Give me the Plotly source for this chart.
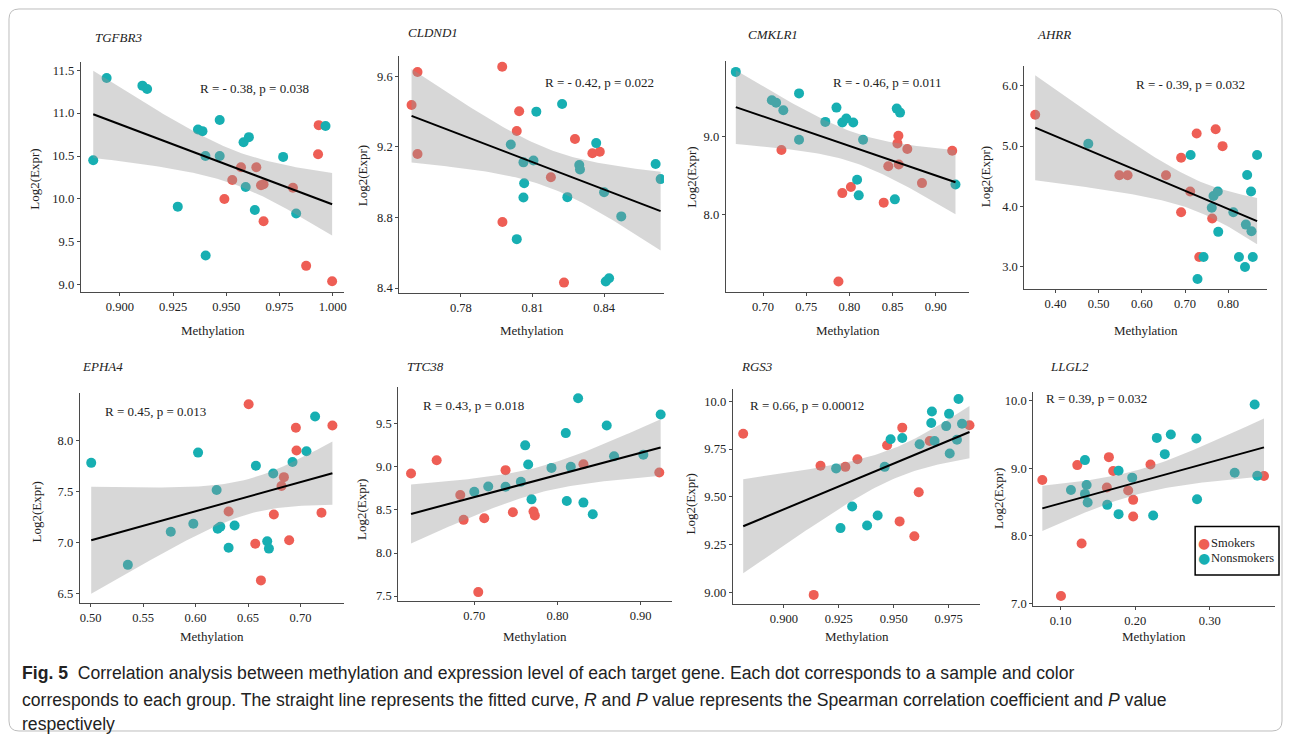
import numpy as np
import plotly.graph_objects as go

# page is drawn with the default 8px body margin, so the figure is 16px smaller than the window
SCR_W, SCR_H, OFF = 1293, 743, 8
W, H = SCR_W - 2 * OFF, SCR_H - 2 * OFF

# ---------------- data ----------------
genes = ["TGFBR3", "CLDND1", "CMKLR1", "AHRR", "EPHA4", "TTC38", "RGS3", "LLGL2"]
stat_labels = ["R = - 0.38, p = 0.038", "R = - 0.42, p = 0.022", "R = - 0.46, p = 0.011",
               "R = - 0.39, p = 0.032", "R = 0.45, p = 0.013", "R = 0.43, p = 0.018",
               "R = 0.66, p = 0.00012", "R = 0.39, p = 0.032"]
groups = ["Smokers", "Nonsmokers"]

tgfbr3_smk_x = [0.9569, 0.9641, 0.9528, 0.9491, 0.9675, 0.9663, 0.9675, 0.9813, 0.9934, 0.9931, 0.9875, 0.9997]
tgfbr3_smk_y = [10.37, 10.37, 10.22, 10.00, 10.17, 10.16, 9.74, 10.13, 10.86, 10.52, 9.22, 9.04]
tgfbr3_non_x = [0.8875, 0.8938, 0.9106, 0.9128, 0.9367, 0.9388, 0.9469, 0.9402, 0.9469, 0.9581, 0.9606,
                0.9591, 0.9272, 0.9634, 0.9767, 0.9828, 0.9966, 0.9403]
tgfbr3_non_y = [10.45, 11.41, 11.32, 11.28, 10.81, 10.79, 10.92, 10.50, 10.50, 10.66, 10.72,
                10.14, 9.91, 9.87, 10.49, 9.83, 10.85, 9.34]

cldnd1_smk_x = [0.7593, 0.7618, 0.7618, 0.7973, 0.8044, 0.8034, 0.7974, 0.8177, 0.8232, 0.8278, 0.8351, 0.8382]
cldnd1_smk_y = [9.437, 9.624, 9.159, 9.653, 9.401, 9.289, 8.774, 9.028, 8.431, 9.244, 9.163, 9.172]
cldnd1_non_x = [0.8009, 0.8062, 0.8104, 0.8065, 0.8062, 0.8034, 0.8116, 0.8224, 0.8246, 0.8296, 0.8299,
                0.8367, 0.8400, 0.8407, 0.8421, 0.8472, 0.8616, 0.8637]
cldnd1_non_y = [9.213, 9.112, 9.122, 8.994, 8.913, 8.677, 9.399, 9.442, 8.915, 9.097, 9.071,
                9.221, 8.943, 8.437, 8.456, 8.806, 9.103, 9.017]

cmklr1_smk_x = [0.7213, 0.7918, 0.8017, 0.7873, 0.8397, 0.8450, 0.8567, 0.8556, 0.8571, 0.8670, 0.8840, 0.9190]
cmklr1_smk_y = [8.826, 8.275, 8.352, 7.144, 8.153, 8.619, 9.008, 8.911, 8.640, 8.839, 8.403, 8.818]
cmklr1_non_x = [0.6685, 0.7102, 0.7152, 0.7235, 0.7417, 0.7417, 0.7721, 0.7850, 0.7918, 0.7964, 0.8044,
                0.8158, 0.8089, 0.8108, 0.8526, 0.8548, 0.8586, 0.9228]
cmklr1_non_y = [9.826, 9.462, 9.432, 9.335, 9.551, 8.958, 9.186, 9.369, 9.178, 9.229, 9.178,
                8.958, 8.445, 8.246, 8.195, 9.356, 9.305, 8.386]

ahrr_smk_x = [0.353, 0.548, 0.567, 0.656, 0.691, 0.691, 0.712, 0.727, 0.771, 0.787, 0.763, 0.733]
ahrr_smk_y = [5.518, 4.517, 4.517, 4.517, 4.807, 3.904, 4.248, 5.206, 5.278, 4.998, 3.80, 3.165]
ahrr_non_x = [0.476, 0.713, 0.762, 0.766, 0.776, 0.777, 0.812, 0.743, 0.729, 0.825, 0.839,
              0.844, 0.853, 0.841, 0.854, 0.857, 0.867]
ahrr_non_y = [5.037, 4.851, 3.98, 4.172, 4.248, 3.58, 3.904, 3.165, 2.80, 3.165, 3.0,
              4.522, 4.248, 3.70, 3.59, 3.165, 4.851]

epha4_smk_x = [0.6506, 0.6315, 0.6569, 0.6623, 0.6746, 0.6819, 0.6842, 0.6892, 0.6956, 0.6962, 0.7200, 0.7304]
epha4_smk_y = [8.353, 7.304, 6.989, 6.630, 7.274, 7.553, 7.640, 7.022, 8.123, 7.900, 7.291, 8.146]
epha4_non_x = [0.5006, 0.5355, 0.5764, 0.5979, 0.6024, 0.6201, 0.6211, 0.6236, 0.6315, 0.6372, 0.6575,
               0.6683, 0.6699, 0.6740, 0.6924, 0.7057, 0.7139]
epha4_non_y = [7.780, 6.782, 7.106, 7.184, 7.880, 7.514, 7.135, 7.154, 6.950, 7.167, 7.751,
               7.012, 6.941, 7.676, 7.789, 7.893, 8.233]

ttc38_smk_x = [0.624, 0.6548, 0.6832, 0.6872, 0.712, 0.7048, 0.7376, 0.7464, 0.7712, 0.7728, 0.8312, 0.9224]
ttc38_smk_y = [8.923, 9.077, 8.673, 8.385, 8.404, 7.546, 8.962, 8.473, 8.481, 8.435, 9.031, 8.935]
ttc38_non_x = [0.700, 0.7168, 0.7376, 0.756, 0.7612, 0.7648, 0.7688, 0.7928, 0.810, 0.8112, 0.816,
               0.8248, 0.8312, 0.8424, 0.8592, 0.868, 0.9032, 0.924]
ttc38_non_y = [8.712, 8.773, 8.769, 8.827, 9.25, 9.027, 8.623, 8.988, 9.392, 8.604, 9.0,
               9.796, 8.585, 8.45, 9.481, 9.123, 9.142, 9.608]

rgs3_smk_x = [0.8815, 0.9136, 0.9167, 0.9280, 0.9335, 0.9470, 0.9539, 0.9527, 0.9594, 0.9614, 0.9664, 0.9845]
rgs3_smk_y = [9.830, 8.988, 9.663, 9.657, 9.697, 9.770, 9.862, 9.372, 9.294, 9.524, 9.792, 9.874]
rgs3_non_x = [0.9238, 0.9258, 0.9311, 0.9379, 0.9427, 0.9459, 0.9486, 0.9539, 0.9618, 0.9674, 0.9671,
              0.9686, 0.9739, 0.9752, 0.9755, 0.9788, 0.9795, 0.9811]
rgs3_non_y = [9.649, 9.337, 9.450, 9.351, 9.403, 9.657, 9.801, 9.808, 9.775, 9.946, 9.886,
              9.792, 9.870, 9.934, 9.727, 9.799, 10.012, 9.882]

llgl2_smk_x = [0.0754, 0.1004, 0.1223, 0.1281, 0.1620, 0.1647, 0.1705, 0.1906, 0.1973, 0.1973, 0.2205, 0.3728]
llgl2_smk_y = [8.825, 7.112, 9.045, 7.886, 8.713, 9.163, 8.957, 8.669, 8.532, 8.287, 9.055, 8.884]
llgl2_non_x = [0.1138, 0.1326, 0.1326, 0.1348, 0.1362, 0.1625, 0.1777, 0.1777, 0.1960, 0.2241, 0.2290,
               0.2397, 0.2478, 0.2821, 0.2830, 0.3335, 0.3603, 0.3638]
llgl2_non_y = [8.678, 9.119, 8.620, 8.752, 8.492, 8.458, 8.962, 8.321, 8.860, 8.302, 9.447,
               9.207, 9.496, 9.437, 8.541, 8.933, 9.941, 8.889]

x_ticks = [[0.900, 0.925, 0.950, 0.975, 1.000], [0.78, 0.81, 0.84], [0.70, 0.75, 0.80, 0.85, 0.90],
           [0.40, 0.50, 0.60, 0.70, 0.80], [0.50, 0.55, 0.60, 0.65, 0.70], [0.70, 0.80, 0.90],
           [0.900, 0.925, 0.950, 0.975], [0.10, 0.20, 0.30]]
x_ticktext = [["0.900", "0.925", "0.950", "0.975", "1.000"], ["0.78", "0.81", "0.84"],
              ["0.70", "0.75", "0.80", "0.85", "0.90"], ["0.40", "0.50", "0.60", "0.70", "0.80"],
              ["0.50", "0.55", "0.60", "0.65", "0.70"], ["0.70", "0.80", "0.90"],
              ["0.900", "0.925", "0.950", "0.975"], ["0.10", "0.20", "0.30"]]
y_ticks = [[9.0, 9.5, 10.0, 10.5, 11.0, 11.5], [8.4, 8.8, 9.2, 9.6], [8.0, 9.0], [3.0, 4.0, 5.0, 6.0],
           [6.5, 7.0, 7.5, 8.0], [7.5, 8.0, 8.5, 9.0, 9.5], [9.00, 9.25, 9.50, 9.75, 10.0],
           [7.0, 8.0, 9.0, 10.0]]
y_ticktext = [["9.0", "9.5", "10.0", "10.5", "11.0", "11.5"], ["8.4", "8.8", "9.2", "9.6"], ["8.0", "9.0"],
              ["3.0", "4.0", "5.0", "6.0"], ["6.5", "7.0", "7.5", "8.0"], ["7.5", "8.0", "8.5", "9.0", "9.5"],
              ["9.00", "9.25", "9.50", "9.75", "10.0"], ["7.0", "8.0", "9.0", "10.0"]]

series = [
    (tgfbr3_smk_x, tgfbr3_smk_y, tgfbr3_non_x, tgfbr3_non_y),
    (cldnd1_smk_x, cldnd1_smk_y, cldnd1_non_x, cldnd1_non_y),
    (cmklr1_smk_x, cmklr1_smk_y, cmklr1_non_x, cmklr1_non_y),
    (ahrr_smk_x, ahrr_smk_y, ahrr_non_x, ahrr_non_y),
    (epha4_smk_x, epha4_smk_y, epha4_non_x, epha4_non_y),
    (ttc38_smk_x, ttc38_smk_y, ttc38_non_x, ttc38_non_y),
    (rgs3_smk_x, rgs3_smk_y, rgs3_non_x, rgs3_non_y),
    (llgl2_smk_x, llgl2_smk_y, llgl2_non_x, llgl2_non_y),
]

# ---------------- layout (screen-pixel geometry) ----------------
plot_px = [(81, 345, 62, 294), (400, 665, 56, 295), (727, 971, 61, 294), (1026, 1269, 66, 291),
           (80, 345, 396, 607), (399, 673, 390, 605), (734, 982, 392, 608), (1035, 1277, 395, 610)]
x_ranges = [(0.8817, 1.0055), (0.7542, 0.8651), (0.657, 0.939), (0.328, 0.890),
            (0.4898, 0.7419), (0.6088, 0.9376), (0.8768, 0.9895), (0.0634, 0.3876)]
y_ranges = [(8.915, 11.60), (8.372, 9.716), (7.009, 9.97), (2.634, 6.33),
            (6.41, 8.46), (7.444, 9.923), (8.941, 10.062), (6.966, 10.12)]
title_pos = [(93, 38), (407, 33), (747, 35), (1037, 35), (80, 369), (406, 369), (740, 369), (1050, 369)]
stat_pos = [(255, 89), (600, 83), (888, 83), (1192, 85), (156, 414), (474, 408), (808, 408), (1098, 401)]
ytitle_pos = [(35, 180), (363, 177), (693, 178), (987, 178), (37, 515), (362, 513), (692, 507), (1000, 502)]
xtitle_y = [333, 333, 333, 333, 641, 641, 641, 641]

RED = "#EE5E55"
TEAL = "#17AFB2"
SERIF = "Liberation Serif, Times New Roman, serif"


def px(x):
    return (x - OFF) / W


def py(y):
    return 1 - (y - OFF) / H


def tq(df):
    z = 1.959964
    return (z + (z**3 + z) / (4 * df) + (5 * z**5 + 16 * z**3 + 3 * z) / (96 * df**2)
            + (3 * z**7 + 19 * z**5 + 17 * z**3 - 15 * z) / (384 * df**3))


fig = go.Figure()
annotations = []
layout_axes = {}

for i, (sx, sy, nx, ny) in enumerate(series):
    xa = "x" if i == 0 else f"x{i+1}"
    ya = "y" if i == 0 else f"y{i+1}"
    fig.add_trace(go.Scatter(x=sx, y=sy, mode="markers", xaxis=xa, yaxis=ya, name=groups[0],
                             marker=dict(color=RED, size=10), showlegend=False))
    fig.add_trace(go.Scatter(x=nx, y=ny, mode="markers", xaxis=xa, yaxis=ya, name=groups[1],
                             marker=dict(color=TEAL, size=10), showlegend=False))
    # linear fit with 95% confidence band (geom_smooth(method = "lm"))
    X = np.array(sx + nx, dtype=float)
    Y = np.array(sy + ny, dtype=float)
    n = len(X)
    b, a = np.polyfit(X, Y, 1)
    resid = Y - (a + b * X)
    s = np.sqrt(np.sum(resid**2) / (n - 2))
    xm = X.mean()
    sxx = np.sum((X - xm) ** 2)
    xg = np.linspace(X.min(), X.max(), 80)
    yg = a + b * xg
    se = s * np.sqrt(1.0 / n + (xg - xm) ** 2 / sxx)
    t = tq(n - 2)
    up, lo = yg + t * se, yg - t * se
    fig.add_trace(go.Scatter(x=np.concatenate([xg, xg[::-1]]), y=np.concatenate([up, lo[::-1]]),
                             xaxis=xa, yaxis=ya, mode="lines", fill="toself",
                             fillcolor="rgba(150,150,150,0.38)", line=dict(width=0),
                             showlegend=False, hoverinfo="skip"))
    fig.add_trace(go.Scatter(x=xg, y=yg, xaxis=xa, yaxis=ya, mode="lines",
                             line=dict(color="black", width=2), showlegend=False))

    x0, x1, y0, y1 = plot_px[i]
    axis_common = dict(showline=True, linecolor="#4a4a4a", linewidth=1.3, ticks="outside", ticklen=3,
                       tickcolor="#4a4a4a", showgrid=False, zeroline=False,
                       tickfont=dict(family=SERIF, size=12.5, color="#222"))
    layout_axes["xaxis" if i == 0 else f"xaxis{i+1}"] = dict(
        domain=[px(x0), px(x1)], anchor=ya, range=list(x_ranges[i]),
        tickvals=x_ticks[i], ticktext=x_ticktext[i], **axis_common)
    layout_axes["yaxis" if i == 0 else f"yaxis{i+1}"] = dict(
        domain=[py(y1), py(y0)], anchor=xa, range=list(y_ranges[i]),
        tickvals=y_ticks[i], ticktext=y_ticktext[i], **axis_common)

    tx, ty = title_pos[i]
    annotations.append(dict(x=px(tx), y=py(ty), xref="paper", yref="paper", xanchor="left", yanchor="middle",
                            text=f"<i>{genes[i]}</i>", showarrow=False,
                            font=dict(family=SERIF, size=13, color="#222")))
    sxp, syp = stat_pos[i]
    annotations.append(dict(x=px(sxp), y=py(syp), xref="paper", yref="paper", xanchor="center",
                            yanchor="middle", text=stat_labels[i], showarrow=False,
                            font=dict(family=SERIF, size=13, color="#222")))
    yx, yy = ytitle_pos[i]
    annotations.append(dict(x=px(yx), y=py(yy), xref="paper", yref="paper", xanchor="center",
                            yanchor="middle", text="Log2(Expr)", textangle=-90, showarrow=False,
                            font=dict(family=SERIF, size=13, color="#222")))
    annotations.append(dict(x=px((x0 + x1) / 2), y=py(xtitle_y[i]), xref="paper", yref="paper",
                            xanchor="center", yanchor="middle", text="Methylation", showarrow=False,
                            font=dict(family=SERIF, size=13, color="#222")))

# legend box drawn inside the last panel
leg_items = [(groups[0], RED, 547), (groups[1], TEAL, 562)]
for name, col, ly in leg_items:
    annotations.append(dict(x=px(1206), y=py(ly), xref="paper", yref="paper", xanchor="center",
                            yanchor="middle", text="●", showarrow=False,
                            font=dict(family="DejaVu Sans", size=14, color=col)))
    annotations.append(dict(x=px(1211), y=py(ly), xref="paper", yref="paper", xanchor="left",
                            yanchor="middle", text=name, showarrow=False,
                            font=dict(family=SERIF, size=12.5, color="#222")))

# caption
CAP = "Liberation Sans Narrow, Arial Narrow, Liberation Sans, sans-serif"
cap_lines = [
    ("<b>Fig. 5</b>  Correlation analysis between methylation and expression level of each target gene. "
     "Each dot corresponds to a sample and color", 678),
    ("corresponds to each group. The straight line represents the fitted curve, <i>R</i> and <i>P</i> value "
     "represents the Spearman correlation coefficient and <i>P</i> value", 705),
    ("respectively", 729),
]
for txt, yy in cap_lines:
    annotations.append(dict(x=px(20), y=py(yy), xref="paper", yref="paper", xanchor="left", yanchor="middle",
                            text=txt, showarrow=False, font=dict(family=CAP, size=17.6, color="#222")))

shapes = [
    dict(type="rect", xref="paper", yref="paper", x0=px(1197), x1=px(1281), y0=py(579), y1=py(530),
         line=dict(color="black", width=1.5), fillcolor="rgba(0,0,0,0)"),
    dict(type="path", xref="paper", yref="paper",
         path=("M {a},{b} L {c},{b} Q {d},{b} {d},{e} L {d},{f} Q {d},{g} {c},{g} L {a},{g} "
               "Q {h},{g} {h},{f} L {h},{e} Q {h},{b} {a},{b} Z").format(
             a=px(19), b=py(9), c=px(1274), d=px(1284), e=py(19), f=py(726), g=py(736), h=px(9)),
         line=dict(color="#BDBDBD", width=1)),
]

fig.update_layout(width=W, height=H, margin=dict(l=0, r=0, t=0, b=0), paper_bgcolor="white",
                  plot_bgcolor="white", showlegend=False, annotations=annotations, shapes=shapes,
                  **layout_axes)

fig.write_html("out.html")
